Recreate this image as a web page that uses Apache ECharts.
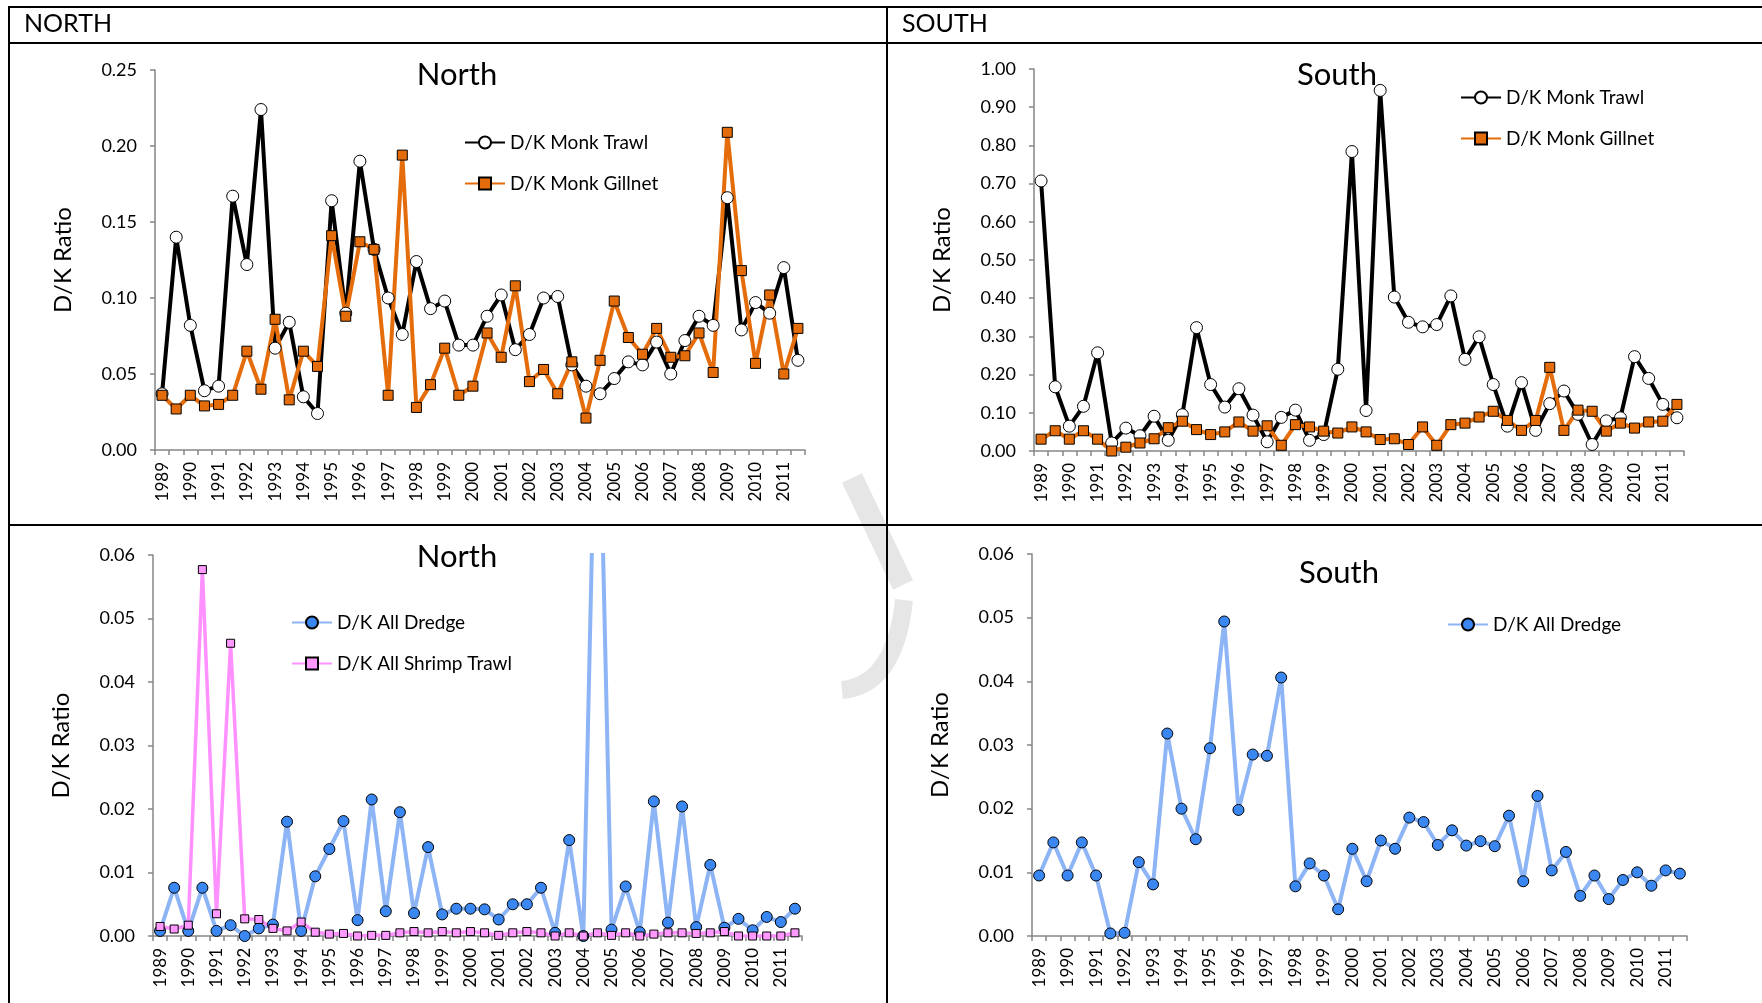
<!DOCTYPE html>
<html>
<head>
<meta charset="utf-8">
<title>D/K Ratio North / South</title>
<script src="https://cdn.jsdelivr.net/npm/echarts@6/dist/echarts.min.js"></script>
<style>
  html, body { margin: 0; padding: 0; background: #fff; }
  #main { width: 1762px; height: 1003px; }
</style>
</head>
<body>
<div id="main"></div>
<script>
// years on the x axis, two half-year points per year
const years = [1989, 1990, 1991, 1992, 1993, 1994, 1995, 1996, 1997, 1998, 1999, 2000,
  2001, 2002, 2003, 2004, 2005, 2006, 2007, 2008, 2009, 2010, 2011];

// North - monkfish
const northMonkTrawl = [0.037, 0.140, 0.082, 0.039, 0.042, 0.167, 0.122, 0.224, 0.067, 0.084,
  0.035, 0.024, 0.164, 0.090, 0.190, 0.132, 0.100, 0.076, 0.124, 0.093,
  0.098, 0.069, 0.069, 0.088, 0.102, 0.066, 0.076, 0.100, 0.101, 0.056,
  0.042, 0.037, 0.047, 0.058, 0.056, 0.071, 0.050, 0.072, 0.088, 0.082,
  0.166, 0.079, 0.097, 0.090, 0.120, 0.059];
const northMonkGillnet = [0.036, 0.027, 0.036, 0.029, 0.030, 0.036, 0.065, 0.040, 0.086, 0.033,
  0.065, 0.055, 0.141, 0.088, 0.137, 0.132, 0.036, 0.194, 0.028, 0.043,
  0.067, 0.036, 0.042, 0.077, 0.061, 0.108, 0.045, 0.053, 0.037, 0.058,
  0.021, 0.059, 0.098, 0.074, 0.063, 0.080, 0.061, 0.062, 0.077, 0.051,
  0.209, 0.118, 0.057, 0.102, 0.050, 0.080];

// South - monkfish
const southMonkTrawl = [0.707, 0.168, 0.065, 0.117, 0.257, 0.021, 0.060, 0.040, 0.091, 0.028,
  0.095, 0.323, 0.174, 0.115, 0.163, 0.094, 0.024, 0.088, 0.107, 0.028,
  0.043, 0.214, 0.784, 0.106, 0.944, 0.403, 0.337, 0.325, 0.331, 0.406,
  0.240, 0.299, 0.174, 0.065, 0.179, 0.054, 0.124, 0.157, 0.096, 0.017,
  0.079, 0.087, 0.247, 0.190, 0.122, 0.087];
const southMonkGillnet = [0.031, 0.053, 0.031, 0.053, 0.031, 0.000, 0.010, 0.021, 0.032, 0.061,
  0.078, 0.056, 0.043, 0.050, 0.076, 0.052, 0.066, 0.015, 0.069, 0.063,
  0.052, 0.047, 0.063, 0.050, 0.030, 0.032, 0.017, 0.063, 0.015, 0.069,
  0.073, 0.089, 0.104, 0.080, 0.054, 0.080, 0.219, 0.054, 0.107, 0.104,
  0.052, 0.073, 0.060, 0.076, 0.078, 0.122];

// North - dredge / shrimp trawl (2004 dredge point runs off the top of the axis)
const northDredge = [0.0008, 0.0076, 0.0008, 0.0076, 0.0008, 0.0017, 0.0000, 0.0012, 0.0018, 0.0180,
  0.0008, 0.0094, 0.0137, 0.0181, 0.0025, 0.0215, 0.0039, 0.0195, 0.0036, 0.0140,
  0.0034, 0.0043, 0.0043, 0.0042, 0.0026, 0.0050, 0.0050, 0.0076, 0.0005, 0.0151,
  0.0000, 0.1000, 0.0010, 0.0078, 0.0006, 0.0212, 0.0021, 0.0204, 0.0014, 0.0112,
  0.0013, 0.0027, 0.0009, 0.0030, 0.0022, 0.0043];
const northShrimp = [0.0015, 0.0011, 0.0017, 0.0577, 0.0035, 0.0461, 0.0027, 0.0026, 0.0012, 0.0008,
  0.0022, 0.0006, 0.0003, 0.0004, 0.0000, 0.0001, 0.0001, 0.0005, 0.0007, 0.0005,
  0.0007, 0.0005, 0.0007, 0.0005, 0.0001, 0.0005, 0.0007, 0.0005, 0.0000, 0.0005,
  0.0000, 0.0005, 0.0001, 0.0005, 0.0000, 0.0003, 0.0005, 0.0005, 0.0004, 0.0005,
  0.0007, 0.0000, 0.0000, 0.0000, 0.0000, 0.0005];

// South - dredge
const southDredge = [0.0095, 0.0147, 0.0095, 0.0147, 0.0095, 0.0004, 0.0005, 0.0116, 0.0081, 0.0318,
  0.0200, 0.0152, 0.0295, 0.0494, 0.0198, 0.0285, 0.0283, 0.0406, 0.0078, 0.0114,
  0.0095, 0.0042, 0.0137, 0.0086, 0.0150, 0.0137, 0.0186, 0.0179, 0.0143, 0.0166,
  0.0142, 0.0149, 0.0141, 0.0189, 0.0086, 0.0220, 0.0103, 0.0132, 0.0063, 0.0095,
  0.0058, 0.0088, 0.0100, 0.0079, 0.0103, 0.0098];

const halfYears = years.flatMap(y => [y + '-1', y + '-2']);

const FONT = 'Lato';
const AXIS_GREY = '#868686';

let chart = echarts.init(document.getElementById('main'));

// panel layout: plot box + y scale
const panels = [
  {left: 155, top: 70, width: 650, height: 380, max: 0.25, interval: 0.05},
  {left: 1034, top: 69, width: 650, height: 382, max: 1.0, interval: 0.1},
  {left: 153, top: 555, width: 649, height: 381, max: 0.06, interval: 0.01},
  {left: 1032, top: 554, width: 655, height: 382, max: 0.06, interval: 0.01}
];

function lineSeries(name, idx, data, lineColor, width, symbol, size, fill) {
  return {
    name: name,
    type: 'line',
    xAxisIndex: idx,
    yAxisIndex: idx,
    data: data,
    symbol: symbol,
    symbolSize: size,
    showAllSymbol: true,
    clip: true,
    lineStyle: {color: lineColor, width: width},
    itemStyle: {color: fill, borderColor: '#000', borderWidth: 1},
    emphasis: {disabled: true},
    animation: false
  };
}

function legendAt(left, top, names) {
  return {
    orient: 'vertical',
    left: left - 5,
    top: top,
    itemWidth: 40,
    itemHeight: 15,
    itemGap: 22,
    selectedMode: false,
    data: names,
    textStyle: {fontFamily: FONT, fontSize: 19, color: '#000'}
  };
}

chart.setOption({
  backgroundColor: '#fff',
  animation: false,
  title: [
    {text: 'North', left: 452, top: 54, textAlign: 'center'},
    {text: 'South', left: 1332, top: 54, textAlign: 'center'},
    {text: 'North', left: 452, top: 536, textAlign: 'center'},
    {text: 'South', left: 1334, top: 552, textAlign: 'center'}
  ].map(t => Object.assign(t, {
    textStyle: {fontFamily: FONT, fontSize: 31, fontWeight: 'normal', color: '#000'}
  })),
  legend: [
    legendAt(464, 128, ['D/K Monk Trawl', 'D/K Monk Gillnet']),
    legendAt(1460, 83, ['D/K Monk Trawl', 'D/K Monk Gillnet']),
    legendAt(291, 608, ['D/K All Dredge', 'D/K All Shrimp Trawl']),
    legendAt(1447, 610, ['D/K All Dredge'])
  ],
  grid: panels.map(p => ({
    left: p.left, top: p.top, width: p.width, height: p.height,
    outerBoundsMode: 'none'
  })),
  xAxis: panels.map((p, i) => ({
    type: 'category',
    gridIndex: i,
    data: halfYears,
    boundaryGap: true,
    axisLine: {show: true, lineStyle: {color: AXIS_GREY, width: 1.5}},
    axisTick: {show: true, interval: 0, length: 5, lineStyle: {color: AXIS_GREY, width: 1.5}},
    axisLabel: {
      interval: 1,
      rotate: 90,
      margin: 12,
      fontFamily: FONT,
      fontSize: 17,
      color: '#000',
      formatter: v => v.slice(0, 4)
    },
    splitLine: {show: false}
  })),
  yAxis: panels.map((p, i) => ({
    type: 'value',
    gridIndex: i,
    min: 0,
    max: p.max,
    interval: p.interval,
    name: 'D/K Ratio',
    nameLocation: 'middle',
    nameRotate: 90,
    nameGap: 80,
    nameTextStyle: {fontFamily: FONT, fontSize: 24, color: '#000'},
    axisLine: {show: true, lineStyle: {color: AXIS_GREY, width: 1.5}},
    axisTick: {show: true, length: 5, lineStyle: {color: AXIS_GREY, width: 1.5}},
    axisLabel: {
      margin: 18,
      fontFamily: FONT,
      fontSize: 18,
      color: '#000',
      formatter: v => v.toFixed(2)
    },
    splitLine: {show: false}
  })),
  series: [
    lineSeries('D/K Monk Trawl', 0, northMonkTrawl, '#000', 4, 'circle', 12, '#fff'),
    lineSeries('D/K Monk Gillnet', 0, northMonkGillnet, '#E46C0A', 4, 'rect', 10, '#E46C0A'),
    lineSeries('D/K Monk Trawl', 1, southMonkTrawl, '#000', 4, 'circle', 12, '#fff'),
    lineSeries('D/K Monk Gillnet', 1, southMonkGillnet, '#E46C0A', 4, 'rect', 10, '#E46C0A'),
    lineSeries('D/K All Dredge', 2, northDredge, '#8DB4F5', 4, 'circle', 11, '#3A87F2'),
    lineSeries('D/K All Shrimp Trawl', 2, northShrimp, '#FF90FF', 3.5, 'rect', 8, '#FF99FF'),
    lineSeries('D/K All Dredge', 3, southDredge, '#8DB4F5', 4, 'circle', 11, '#3A87F2')
  ],
  graphic: [
    // faint watermark stroke between the panels
    {type: 'polyline', z: -10, silent: true,
      shape: {points: [[852, 478], [903, 585]]},
      style: {stroke: '#e6e6e6', lineWidth: 22, fill: null}},
    {type: 'bezierCurve', z: -10, silent: true,
      shape: {x1: 904, y1: 600, x2: 842, y2: 690, cpx1: 895, cpy1: 685},
      style: {stroke: '#e6e6e6', lineWidth: 18, fill: null}},
    // table borders
    {type: 'line', shape: {x1: 9, y1: 7, x2: 1762, y2: 7}, style: {stroke: '#000', lineWidth: 2}},
    {type: 'line', shape: {x1: 9, y1: 43, x2: 1762, y2: 43}, style: {stroke: '#000', lineWidth: 2}},
    {type: 'line', shape: {x1: 9, y1: 525, x2: 1762, y2: 525}, style: {stroke: '#000', lineWidth: 2}},
    {type: 'line', shape: {x1: 9, y1: 6, x2: 9, y2: 1003}, style: {stroke: '#000', lineWidth: 2}},
    {type: 'line', shape: {x1: 887, y1: 6, x2: 887, y2: 1003}, style: {stroke: '#000', lineWidth: 2}},
    // header cells
    {type: 'text', left: 24, top: 11,
      style: {text: 'NORTH', fontFamily: FONT, fontSize: 25, fill: '#000'}},
    {type: 'text', left: 902, top: 11,
      style: {text: 'SOUTH', fontFamily: FONT, fontSize: 25, fill: '#000'}}
  ]
});
</script>
</body>
</html>
